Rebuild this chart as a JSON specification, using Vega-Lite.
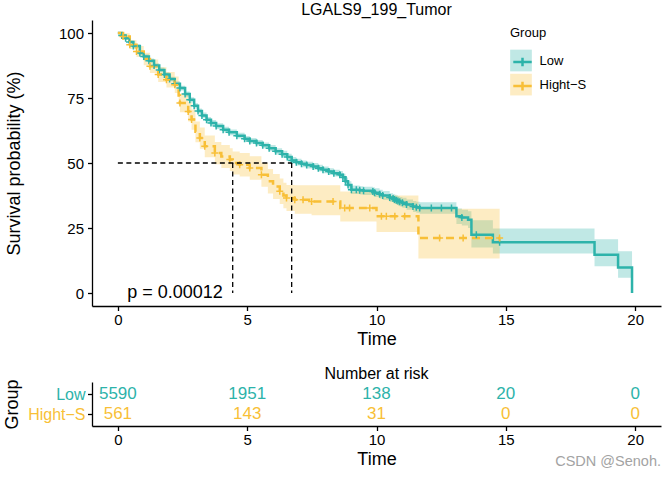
{
  "$schema": "https://vega.github.io/schema/vega-lite/v6.json",
  "autosize": {"type": "pad"},
  "padding": {"left": 3, "top": 2, "right": 10, "bottom": 5},
  "background": "white",
  "title": {"text": "CSDN @Senoh.", "orient": "bottom", "anchor": "end", "offset": -14, "fontSize": 14.5, "color": "#a3a3a3", "fontWeight": "normal"},
  "datasets": {
    "km": [
      {"g":"Low","t":0,"s":100,"lo":100,"hi":100,"c":0},
      {"g":"Low","t":0.15,"s":99,"lo":98.5,"hi":99.5,"c":1},
      {"g":"Low","t":0.3,"s":98,"lo":97.4,"hi":98.6,"c":1},
      {"g":"Low","t":0.45,"s":96.5,"lo":95.9,"hi":97.1,"c":1},
      {"g":"Low","t":0.6,"s":95,"lo":94.4,"hi":95.6,"c":1},
      {"g":"Low","t":0.85,"s":92.3,"lo":91.6,"hi":93,"c":1},
      {"g":"Low","t":1.0,"s":91,"lo":90.2,"hi":91.8,"c":1},
      {"g":"Low","t":1.2,"s":89.3,"lo":88.4,"hi":90.2,"c":1},
      {"g":"Low","t":1.4,"s":87.5,"lo":86.6,"hi":88.4,"c":1},
      {"g":"Low","t":1.6,"s":85.8,"lo":84.9,"hi":86.7,"c":1},
      {"g":"Low","t":1.8,"s":84,"lo":83.1,"hi":84.9,"c":1},
      {"g":"Low","t":2.0,"s":82.3,"lo":81.4,"hi":83.2,"c":1},
      {"g":"Low","t":2.2,"s":80.5,"lo":79.6,"hi":81.4,"c":1},
      {"g":"Low","t":2.4,"s":78.8,"lo":77.9,"hi":79.7,"c":1},
      {"g":"Low","t":2.6,"s":76.5,"lo":75.5,"hi":77.5,"c":1},
      {"g":"Low","t":2.78,"s":74.3,"lo":73.3,"hi":75.3,"c":1},
      {"g":"Low","t":2.95,"s":72,"lo":71,"hi":73,"c":1},
      {"g":"Low","t":3.1,"s":70,"lo":69,"hi":71,"c":1},
      {"g":"Low","t":3.25,"s":68.3,"lo":67.2,"hi":69.4,"c":1},
      {"g":"Low","t":3.43,"s":66.6,"lo":65.5,"hi":67.7,"c":1},
      {"g":"Low","t":3.6,"s":65.4,"lo":64.3,"hi":66.5,"c":1},
      {"g":"Low","t":3.8,"s":64.2,"lo":63.1,"hi":65.3,"c":1},
      {"g":"Low","t":4.07,"s":62.8,"lo":61.7,"hi":63.9,"c":1},
      {"g":"Low","t":4.3,"s":61.8,"lo":60.7,"hi":62.9,"c":1},
      {"g":"Low","t":4.6,"s":60.5,"lo":59.4,"hi":61.6,"c":1},
      {"g":"Low","t":4.9,"s":59.3,"lo":58.2,"hi":60.4,"c":1},
      {"g":"Low","t":5.1,"s":58.5,"lo":57.4,"hi":59.6,"c":1},
      {"g":"Low","t":5.36,"s":57.7,"lo":56.6,"hi":58.8,"c":1},
      {"g":"Low","t":5.6,"s":56.8,"lo":55.7,"hi":57.9,"c":1},
      {"g":"Low","t":5.85,"s":55.7,"lo":54.5,"hi":56.9,"c":1},
      {"g":"Low","t":6.1,"s":54.5,"lo":53.3,"hi":55.7,"c":1},
      {"g":"Low","t":6.35,"s":53.4,"lo":52.1,"hi":54.7,"c":1},
      {"g":"Low","t":6.55,"s":52.3,"lo":51,"hi":53.6,"c":1},
      {"g":"Low","t":6.72,"s":51,"lo":49.7,"hi":52.3,"c":1},
      {"g":"Low","t":6.9,"s":50.3,"lo":49,"hi":51.6,"c":1},
      {"g":"Low","t":7.1,"s":49.7,"lo":48.4,"hi":51,"c":1},
      {"g":"Low","t":7.3,"s":49.2,"lo":47.9,"hi":50.5,"c":1},
      {"g":"Low","t":7.55,"s":48.7,"lo":47.4,"hi":50,"c":1},
      {"g":"Low","t":7.75,"s":48,"lo":46.7,"hi":49.3,"c":1},
      {"g":"Low","t":7.93,"s":47.4,"lo":46.1,"hi":48.7,"c":1},
      {"g":"Low","t":8.15,"s":46.7,"lo":45.4,"hi":48,"c":1},
      {"g":"Low","t":8.35,"s":46.1,"lo":44.8,"hi":47.4,"c":1},
      {"g":"Low","t":8.58,"s":45.5,"lo":44.1,"hi":46.9,"c":1},
      {"g":"Low","t":8.7,"s":44.5,"lo":43.1,"hi":45.9,"c":1},
      {"g":"Low","t":8.8,"s":43,"lo":41.6,"hi":44.4,"c":1},
      {"g":"Low","t":8.9,"s":41.5,"lo":40,"hi":43,"c":1},
      {"g":"Low","t":9.03,"s":39.7,"lo":38.1,"hi":41.3,"c":1},
      {"g":"Low","t":9.22,"s":39.7,"lo":38.1,"hi":41.3,"c":1},
      {"g":"Low","t":9.35,"s":39.5,"lo":37.9,"hi":41.1,"c":1},
      {"g":"Low","t":9.5,"s":39.3,"lo":37.7,"hi":40.9,"c":1},
      {"g":"Low","t":9.86,"s":39,"lo":37.3,"hi":40.7,"c":1},
      {"g":"Low","t":9.93,"s":38.6,"lo":36.9,"hi":40.3,"c":1},
      {"g":"Low","t":10.12,"s":38,"lo":36.3,"hi":39.7,"c":1},
      {"g":"Low","t":10.24,"s":37.5,"lo":35.8,"hi":39.2,"c":1},
      {"g":"Low","t":10.51,"s":36.7,"lo":35,"hi":38.4,"c":1},
      {"g":"Low","t":10.64,"s":36.3,"lo":34.5,"hi":38.1,"c":1},
      {"g":"Low","t":10.7,"s":36,"lo":34.2,"hi":37.8,"c":1},
      {"g":"Low","t":10.77,"s":35.7,"lo":33.9,"hi":37.5,"c":1},
      {"g":"Low","t":10.83,"s":35.4,"lo":33.6,"hi":37.2,"c":1},
      {"g":"Low","t":10.9,"s":35.1,"lo":33.3,"hi":36.9,"c":1},
      {"g":"Low","t":11.0,"s":34.7,"lo":32.8,"hi":36.6,"c":1},
      {"g":"Low","t":11.16,"s":34,"lo":32,"hi":36,"c":1},
      {"g":"Low","t":11.41,"s":33.3,"lo":31.2,"hi":35.4,"c":1},
      {"g":"Low","t":11.54,"s":33,"lo":30.9,"hi":35.1,"c":1},
      {"g":"Low","t":11.67,"s":32.7,"lo":30.5,"hi":34.9,"c":1},
      {"g":"Low","t":12.12,"s":32.7,"lo":30.5,"hi":34.9,"c":1},
      {"g":"Low","t":12.51,"s":32.7,"lo":30.5,"hi":34.9,"c":1},
      {"g":"Low","t":12.9,"s":32.7,"lo":30.5,"hi":34.9,"c":1},
      {"g":"Low","t":13.09,"s":29.5,"lo":26.5,"hi":32.5,"c":0},
      {"g":"Low","t":13.3,"s":29,"lo":26,"hi":32,"c":1},
      {"g":"Low","t":13.54,"s":28.2,"lo":25,"hi":31.4,"c":0},
      {"g":"Low","t":13.67,"s":22.4,"lo":17.5,"hi":28,"c":0},
      {"g":"Low","t":13.86,"s":22.4,"lo":17.5,"hi":28,"c":1},
      {"g":"Low","t":14.5,"s":19.5,"lo":15.2,"hi":24.8,"c":0},
      {"g":"Low","t":14.76,"s":19.5,"lo":15.2,"hi":24.8,"c":1},
      {"g":"Low","t":18.43,"s":14.7,"lo":10.3,"hi":20.7,"c":0},
      {"g":"Low","t":19.34,"s":9.8,"lo":5.9,"hi":16.1,"c":0},
      {"g":"Low","t":19.88,"s":0,"lo":5.9,"hi":16.1,"c":0},
      {"g":"Hight−S","t":0,"s":100,"lo":100,"hi":100,"c":0},
      {"g":"Hight−S","t":0.2,"s":98.7,"lo":97.5,"hi":99.9,"c":1},
      {"g":"Hight−S","t":0.46,"s":95.5,"lo":93.8,"hi":97.2,"c":1},
      {"g":"Hight−S","t":0.72,"s":92.9,"lo":90.8,"hi":95,"c":1},
      {"g":"Hight−S","t":1.0,"s":90,"lo":87.6,"hi":92.4,"c":0},
      {"g":"Hight−S","t":1.24,"s":87.2,"lo":84.6,"hi":89.8,"c":1},
      {"g":"Hight−S","t":1.56,"s":84,"lo":81.2,"hi":86.8,"c":1},
      {"g":"Hight−S","t":1.88,"s":82,"lo":79,"hi":85,"c":1},
      {"g":"Hight−S","t":2.2,"s":80.1,"lo":76.9,"hi":83.3,"c":1},
      {"g":"Hight−S","t":2.35,"s":76,"lo":72.6,"hi":79.4,"c":0},
      {"g":"Hight−S","t":2.4,"s":73.1,"lo":69.5,"hi":76.7,"c":1},
      {"g":"Hight−S","t":2.72,"s":69.8,"lo":66,"hi":73.6,"c":1},
      {"g":"Hight−S","t":2.85,"s":66.7,"lo":62.8,"hi":70.6,"c":1},
      {"g":"Hight−S","t":3.0,"s":62,"lo":58,"hi":66,"c":0},
      {"g":"Hight−S","t":3.17,"s":59.6,"lo":55.5,"hi":63.7,"c":1},
      {"g":"Hight−S","t":3.36,"s":56.4,"lo":52.2,"hi":60.6,"c":1},
      {"g":"Hight−S","t":3.75,"s":53.8,"lo":49.5,"hi":58.1,"c":1},
      {"g":"Hight−S","t":4.0,"s":52.5,"lo":48.1,"hi":56.9,"c":0},
      {"g":"Hight−S","t":4.33,"s":51.3,"lo":46.9,"hi":55.7,"c":1},
      {"g":"Hight−S","t":4.44,"s":50,"lo":45.6,"hi":54.4,"c":0},
      {"g":"Hight−S","t":4.71,"s":49.3,"lo":44.8,"hi":53.8,"c":1},
      {"g":"Hight−S","t":5.1,"s":48.1,"lo":43.6,"hi":52.6,"c":1},
      {"g":"Hight−S","t":5.55,"s":45.5,"lo":40.9,"hi":50.1,"c":1},
      {"g":"Hight−S","t":5.8,"s":43,"lo":38.3,"hi":47.7,"c":0},
      {"g":"Hight−S","t":6.0,"s":41,"lo":36.2,"hi":45.8,"c":0},
      {"g":"Hight−S","t":6.26,"s":39.1,"lo":34.2,"hi":44,"c":1},
      {"g":"Hight−S","t":6.4,"s":37.5,"lo":32.6,"hi":42.4,"c":0},
      {"g":"Hight−S","t":6.52,"s":36.5,"lo":31.5,"hi":41.5,"c":1},
      {"g":"Hight−S","t":6.84,"s":35.9,"lo":30.5,"hi":41.4,"c":1},
      {"g":"Hight−S","t":7.16,"s":35.9,"lo":30.5,"hi":41.4,"c":1},
      {"g":"Hight−S","t":7.49,"s":35.2,"lo":29.9,"hi":41.4,"c":1},
      {"g":"Hight−S","t":8.32,"s":35.2,"lo":29.9,"hi":41.4,"c":1},
      {"g":"Hight−S","t":8.6,"s":32.7,"lo":27.5,"hi":39,"c":0},
      {"g":"Hight−S","t":8.77,"s":32.7,"lo":27.5,"hi":39,"c":1},
      {"g":"Hight−S","t":8.96,"s":32.7,"lo":27.5,"hi":39,"c":1},
      {"g":"Hight−S","t":9.74,"s":32.7,"lo":27.5,"hi":39,"c":1},
      {"g":"Hight−S","t":10.0,"s":29.5,"lo":23.5,"hi":37.5,"c":0},
      {"g":"Hight−S","t":10.19,"s":29.5,"lo":23.5,"hi":37.5,"c":1},
      {"g":"Hight−S","t":10.38,"s":29.5,"lo":23.5,"hi":37.5,"c":1},
      {"g":"Hight−S","t":10.71,"s":29.5,"lo":23.5,"hi":37.5,"c":1},
      {"g":"Hight−S","t":11.09,"s":29.5,"lo":23.5,"hi":37.5,"c":1},
      {"g":"Hight−S","t":11.62,"s":21.2,"lo":13.3,"hi":32.4,"c":0},
      {"g":"Hight−S","t":12.44,"s":21.2,"lo":13.3,"hi":32.4,"c":1},
      {"g":"Hight−S","t":13.35,"s":21.2,"lo":13.3,"hi":32.4,"c":1},
      {"g":"Hight−S","t":14.76,"s":21.2,"lo":13.3,"hi":32.4,"c":1}
    ],
    "med": [
      {"x1":0,"x2":6.72,"y1":50,"y2":50},
      {"x1":4.44,"x2":4.44,"y1":50,"y2":0},
      {"x1":6.72,"x2":6.72,"y1":50,"y2":0}
    ],
    "pv": [{"t":0.36,"s":0,"label":"p = 0.00012"}],
    "risk": [
      {"g":"Low","t":0,"n":"5590"},
      {"g":"Low","t":5,"n":"1951"},
      {"g":"Low","t":10,"n":"138"},
      {"g":"Low","t":15,"n":"20"},
      {"g":"Low","t":20,"n":"0"},
      {"g":"Hight−S","t":0,"n":"561"},
      {"g":"Hight−S","t":5,"n":"143"},
      {"g":"Hight−S","t":10,"n":"31"},
      {"g":"Hight−S","t":15,"n":"0"},
      {"g":"Hight−S","t":20,"n":"0"}
    ]
  },
  "spacing": 16,
  "resolve": {"scale": {"fill": "independent", "stroke": "independent", "color": "independent", "strokeDash": "independent"}},
  "vconcat": [
    {
      "width": 569,
      "height": 286,
      "title": {"text": "LGALS9_199_Tumor", "fontSize": 16, "fontWeight": "normal", "offset": 2, "anchor": "middle", "color": "black"},
      "layer": [
        {
          "data": {"name": "km"},
          "mark": {"type": "area", "interpolate": "step-after", "opacity": 0.3},
          "encoding": {
            "x": {"field": "t", "type": "quantitative", "title": "Time", "scale": {"domain": [-1, 21], "nice": false, "zero": false}, "axis": {"values": [0, 5, 10, 15, 20], "labelPadding": 2, "titlePadding": 3}},
            "y": {"field": "lo", "type": "quantitative", "title": "Survival probability (%)", "scale": {"domain": [-5, 105], "nice": false, "zero": false}, "axis": {"values": [0, 25, 50, 75, 100], "labelPadding": 4, "titlePadding": 35}},
            "y2": {"field": "hi"},
            "fill": {"field": "g", "type": "nominal", "scale": {"domain": ["Low", "Hight−S"], "range": ["#2DB3AA", "#F8BF37"]},
              "legend": {"title": "Group", "orient": "none", "legendX": 418, "legendY": 6.5, "symbolType": "square", "symbolSize": 470, "symbolOpacity": 0.3, "symbolStrokeWidth": 0, "titleFontSize": 13, "titleFontWeight": "normal", "titleColor": "black", "labelFontSize": 13, "labelColor": "black", "labelOffset": 7.6, "rowPadding": 2.1, "titlePadding": 10, "padding": 0}}
          }
        },
        {
          "data": {"name": "km"},
          "mark": {"type": "line", "interpolate": "step-after", "strokeWidth": 2.5},
          "encoding": {
            "x": {"field": "t", "type": "quantitative", "title": "Time"},
            "y": {"field": "s", "type": "quantitative", "title": "Survival probability (%)"},
            "stroke": {"field": "g", "type": "nominal", "sort": ["Low", "Hight−S"], "scale": {"range": ["#2DB3AA", "#F8BF37"]},
              "legend": {"title": " ", "orient": "none", "legendX": 418, "legendY": 6.5, "symbolType": "M-0.85,0H0.85M0,-0.4V0.4", "symbolSize": 470, "symbolStrokeWidth": 2.5, "symbolFillColor": "transparent", "titleFontSize": 13, "titleFontWeight": "normal", "labelFontSize": 13, "labelOffset": 7.6, "rowPadding": 2.1, "titlePadding": 10, "padding": 0, "labelExpr": "''"}},
            "strokeDash": {"field": "g", "type": "nominal", "scale": {"domain": ["Low", "Hight−S"], "range": [[1, 0], [8, 5]]}, "legend": null}
          }
        },
        {
          "data": {"name": "km"},
          "transform": [{"filter": "datum.c == 1"}],
          "mark": {"type": "point", "shape": "M-1,0H1M0,-1V1", "filled": false, "size": 49, "strokeWidth": 1.5, "opacity": 1},
          "encoding": {
            "x": {"field": "t", "type": "quantitative", "title": "Time"},
            "y": {"field": "s", "type": "quantitative", "title": "Survival probability (%)"},
            "stroke": {"field": "g", "type": "nominal", "sort": ["Low", "Hight−S"],
              "legend": {"title": " ", "orient": "none", "legendX": 418, "legendY": 6.5, "symbolType": "M-0.85,0H0.85M0,-0.4V0.4", "symbolSize": 470, "symbolStrokeWidth": 2.5, "symbolFillColor": "transparent", "titleFontSize": 13, "titleFontWeight": "normal", "labelFontSize": 13, "labelOffset": 7.6, "rowPadding": 2.1, "titlePadding": 10, "padding": 0, "labelExpr": "''"}}
          }
        },
        {
          "data": {"name": "med"},
          "mark": {"type": "rule", "strokeDash": [5, 3.5], "strokeWidth": 1.3, "color": "black"},
          "encoding": {
            "x": {"field": "x1", "type": "quantitative", "title": "Time"},
            "x2": {"field": "x2"},
            "y": {"field": "y1", "type": "quantitative", "title": "Survival probability (%)"},
            "y2": {"field": "y2"}
          }
        },
        {
          "data": {"name": "pv"},
          "mark": {"type": "text", "align": "left", "baseline": "middle", "fontSize": 18, "color": "black"},
          "encoding": {
            "x": {"field": "t", "type": "quantitative", "title": "Time"},
            "y": {"field": "s", "type": "quantitative", "title": "Survival probability (%)"},
            "text": {"field": "label", "type": "nominal"}
          }
        }
      ]
    },
    {
      "width": 569,
      "height": 44,
      "title": {"text": "Number at risk", "fontSize": 16, "fontWeight": "normal", "offset": -3, "anchor": "middle", "color": "black"},
      "data": {"name": "risk"},
      "mark": {"type": "text", "fontSize": 17, "baseline": "middle", "align": "center"},
      "encoding": {
        "x": {"field": "t", "type": "quantitative", "title": "Time", "scale": {"domain": [-1, 21], "nice": false, "zero": false}, "axis": {"values": [0, 5, 10, 15, 20], "labelPadding": 2, "titlePadding": 3}},
        "y": {"field": "g", "type": "nominal", "title": "Group", "scale": {"type": "point", "domain": ["Low", "Hight−S"], "padding": 0.6},
          "axis": {"labelFontSize": 16, "labelPadding": 2.5, "titlePadding": 6, "labelColor": {"condition": {"test": "datum.value === 'Low'", "value": "#2DB3AA"}, "value": "#F8BF37"}}},
        "text": {"field": "n", "type": "nominal"},
        "color": {"field": "g", "type": "nominal", "scale": {"domain": ["Low", "Hight−S"], "range": ["#2DB3AA", "#F8BF37"]}, "legend": null}
      }
    }
  ],
  "config": {
    "font": "Liberation Sans",
    "view": {"stroke": null},
    "axis": {"domainColor": "black", "domainWidth": 1.3, "tickColor": "black", "tickWidth": 1.3, "tickSize": 4.5, "labelColor": "black", "labelFontSize": 15, "titleFontSize": 18, "titleFontWeight": "normal", "titleColor": "black", "grid": false}
  }
}
